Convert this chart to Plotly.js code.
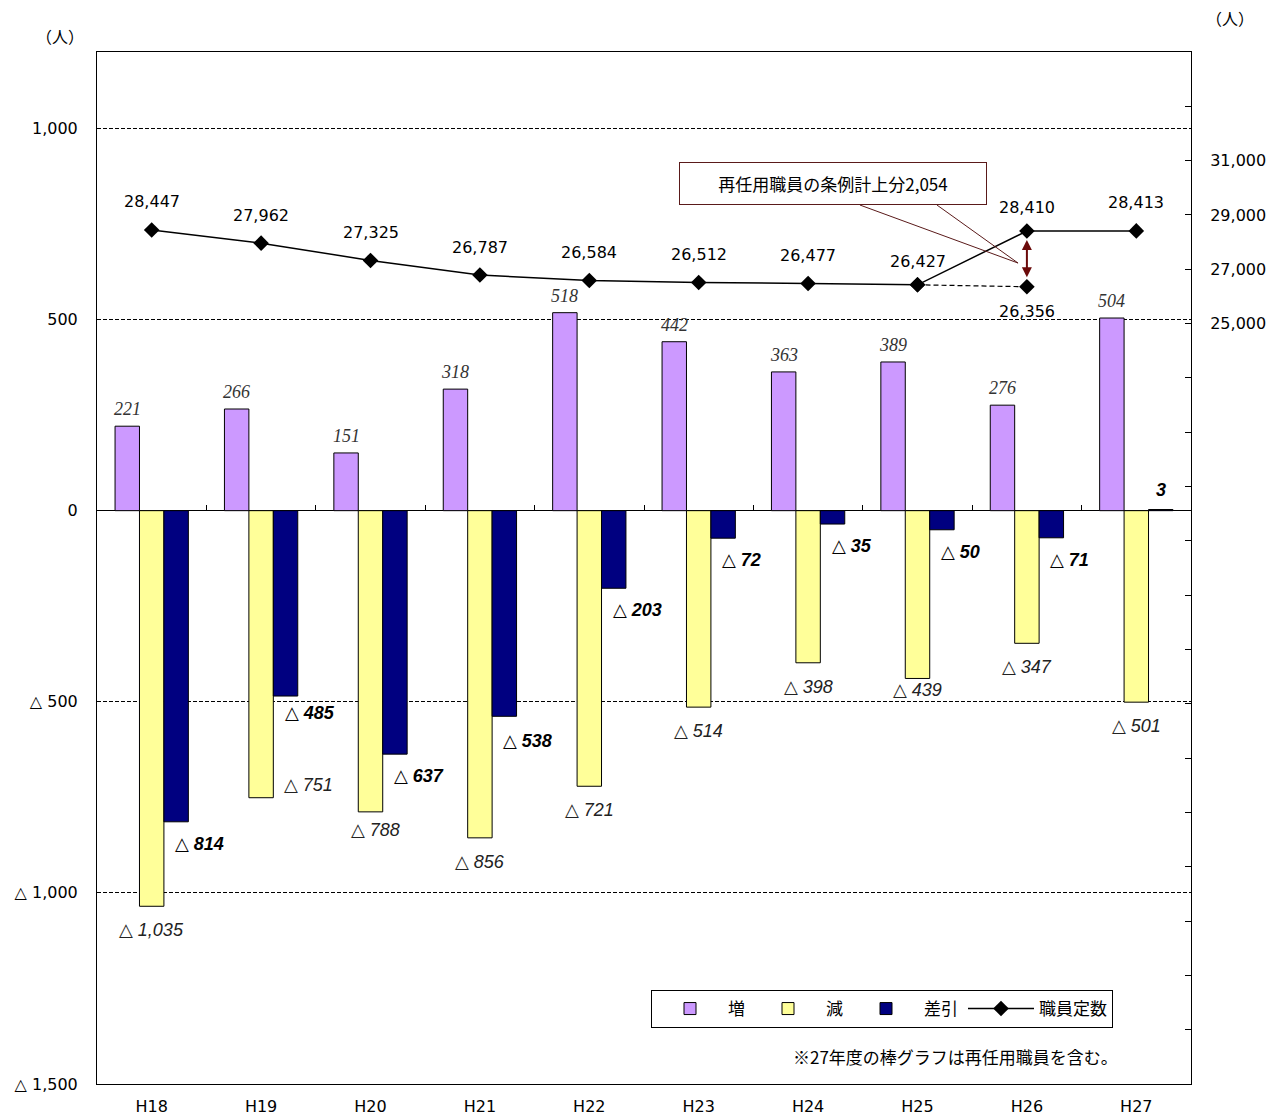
<!DOCTYPE html>
<html>
<head>
<meta charset="utf-8">
<script src="https://cdn.plot.ly/plotly-3.0.1.min.js"></script>
<style>
  html, body { margin: 0; padding: 0; background: #ffffff; }
  #chart { width: 1274px; height: 1120px; }
</style>
</head>
<body>
<div id="chart"></div>
<script>
// ---------------- data ----------------
const years = ['H18', 'H19', 'H20', 'H21', 'H22', 'H23', 'H24', 'H25', 'H26', 'H27'];
const increase  = [221, 266, 151, 318, 518, 442, 363, 389, 276, 504];          // 増
const decrease  = [-1035, -751, -788, -856, -721, -514, -398, -439, -347, -501]; // 減
const netChange = [-814, -485, -637, -538, -203, -72, -35, -50, -71, 3];        // 差引
const staffQuota = [28447, 27962, 27325, 26787, 26584, 26512, 26477, 26427, 28410, 28413]; // 職員定数
const exclYears = ['H25', 'H26'];            // 再任用職員を除く定数の推移
const exclQuota = [26427, 26356];
const rehireAddition = 2054;                 // 再任用職員の条例計上分
const leftTickVals = [-1500, -1000, -500, 0, 500, 1000];
const leftTickText = ['△ 1,500', '△ 1,000', '△ 500', '0', '500', '1,000'];
const rightTickVals = [-1000, 1000, 3000, 5000, 7000, 9000, 11000, 13000, 15000, 17000,
                       19000, 21000, 23000, 25000, 27000, 29000, 31000, 33000];
const rightTickText = ['', '', '', '', '', '', '', '', '', '', '', '', '',
                       '25,000', '27,000', '29,000', '31,000', ''];
const boundaryTicks = [0.5, 1.5, 2.5, 3.5, 4.5, 5.5, 6.5, 7.5, 8.5];

// ---------------- helpers ----------------
const fmt = v => (v < 0 ? '△ ' : '') + Math.abs(v).toLocaleString('en-US');
const plotW = 1274 - 97 - 83;
const catW = plotW / years.length;
const BARGAP = 0.33;
const barW = catW * (1 - BARGAP) / 3;

const JP = '"Noto Sans CJK JP", "DejaVu Sans", sans-serif';
const NUM = '"DejaVu Sans", "Noto Sans CJK JP", sans-serif';

// ---------------- traces ----------------
const traces = [
  { type: 'bar', name: '増', x: years, y: increase,
    marker: { color: '#CC99FF', line: { color: '#000000', width: 1 } }, hoverinfo: 'x+y' },
  { type: 'bar', name: '減', x: years, y: decrease,
    marker: { color: '#FFFF99', line: { color: '#000000', width: 1 } }, hoverinfo: 'x+y' },
  { type: 'bar', name: '差引', x: years, y: netChange,
    marker: { color: '#000080', line: { color: '#000000', width: 1 } }, hoverinfo: 'x+y' },
  { type: 'scatter', name: '職員定数', x: exclYears, y: exclQuota, yaxis: 'y2',
    mode: 'lines+markers', showlegend: false,
    line: { color: '#000000', width: 1.2, dash: '5px,3px' },
    marker: { symbol: 'diamond', size: 12, color: '#000000' } },
  { type: 'scatter', name: '職員定数', x: years, y: staffQuota, yaxis: 'y2',
    mode: 'lines+markers',
    line: { color: '#000000', width: 1.5 },
    marker: { symbol: 'diamond', size: 12, color: '#000000' } },
  { type: 'scatter', x: [0], y: [null], xaxis: 'x2', yaxis: 'y', mode: 'markers',
    showlegend: false, hoverinfo: 'skip' }
];

// ---------------- annotations ----------------
const annotations = [];
const incFont = { family: '"Liberation Serif", "DejaVu Serif", serif', size: 18, style: 'italic', color: '#333333' };
const decFont = { family: '"Liberation Sans", "DejaVu Sans", sans-serif', size: 18, style: 'italic', color: '#222222' };
const netFont = { family: '"Liberation Sans", "DejaVu Sans", sans-serif', size: 18, style: 'italic', weight: 'bold', color: '#000000' };
const numFont = { family: NUM, size: 16, color: '#000000' };

// label placement nudges (layout only)
const decNudge = { H19: { xanchor: 'left', xshift: 21, yshift: 13 }, H20: { xshift: 5, yshift: -18 }, H25: { yshift: -12 } };
const netNudge = { H19: { yshift: -17 }, H21: { yshift: -25 } };
const quotaNudge = { H25: 23, H26: 23 };

years.forEach((yr, i) => {
  annotations.push({ x: yr, y: increase[i], xref: 'x', yref: 'y', showarrow: false,
    text: fmt(increase[i]), font: incFont, xshift: -barW, yshift: 17, yanchor: 'middle', xanchor: 'center' });

  annotations.push(Object.assign({ x: yr, y: decrease[i], xref: 'x', yref: 'y', showarrow: false,
    text: fmt(decrease[i]), font: decFont, xshift: 0, yshift: -24, yanchor: 'middle', xanchor: 'center' },
    decNudge[yr] || {}));

  const nv = netChange[i];
  if (nv < 0) {
    annotations.push(Object.assign({ x: yr, y: nv, xref: 'x', yref: 'y', showarrow: false,
      text: fmt(nv), font: netFont, xshift: barW - 3, yshift: -22, xanchor: 'left', yanchor: 'middle' },
      netNudge[yr] || {}));
  } else {
    annotations.push({ x: yr, y: nv, xref: 'x', yref: 'y', showarrow: false,
      text: fmt(nv), font: netFont, xshift: barW, yshift: 20, xanchor: 'center', yanchor: 'middle' });
  }

  annotations.push({ x: yr, y: staffQuota[i], xref: 'x', yref: 'y2', showarrow: false,
    text: fmt(staffQuota[i]), font: numFont, yshift: quotaNudge[yr] || 28, yanchor: 'middle', xanchor: 'center' });
});

// 26,356 label below its marker
annotations.push({ x: exclYears[1], y: exclQuota[1], xref: 'x', yref: 'y2', showarrow: false,
  text: fmt(exclQuota[1]), font: numFont, yshift: -25, yanchor: 'middle', xanchor: 'center' });

// double-headed arrow between the two H26 points
const idx26 = years.indexOf('H26');
annotations.push({ x: idx26, y: staffQuota[idx26], xref: 'x', yref: 'y2',
  ax: idx26, ay: exclQuota[1], axref: 'x', ayref: 'y2', text: '', showarrow: true,
  arrowside: 'end+start', arrowhead: 2, startarrowhead: 2, arrowsize: 1, startarrowsize: 1,
  arrowwidth: 2, arrowcolor: '#6B0A0A', standoff: 9, startstandoff: 8 });

// callout box
annotations.push({ xref: 'paper', yref: 'paper', x: (833 - 97) / plotW, y: (1084 - 183.5) / 1032,
  xanchor: 'center', yanchor: 'middle', showarrow: false,
  text: '再任用職員の条例計上分' + rehireAddition.toLocaleString('en-US'),
  font: { family: JP, size: 17, color: '#000000' },
  bgcolor: '#ffffff', bordercolor: '#5A1A1A', borderwidth: 1, borderpad: 4, width: 298, height: 33 });

// unit labels
annotations.push({ xref: 'paper', yref: 'paper', x: (60 - 97) / plotW, y: (1084 - 36) / 1032,
  xanchor: 'center', yanchor: 'middle',
  showarrow: false, text: '（人）', font: { family: JP, size: 16, color: '#000000' } });
annotations.push({ xref: 'paper', yref: 'paper', x: (1230 - 97) / plotW, y: (1084 - 18) / 1032,
  xanchor: 'center', yanchor: 'middle',
  showarrow: false, text: '（人）', font: { family: JP, size: 16, color: '#000000' } });

// note
annotations.push({ xref: 'paper', yref: 'paper', x: (955 - 97) / plotW, y: (1084 - 1056) / 1032,
  xanchor: 'center', yanchor: 'middle',
  showarrow: false, text: '※27年度の棒グラフは再任用職員を含む。',
  font: { family: JP, size: 17, color: '#000000' } });

// callout pointer
const px = v => ((v - 97) / plotW).toFixed(4);
const py = v => ((1084 - v) / 1032).toFixed(4);
const shapes = [
  { type: 'path', xref: 'paper', yref: 'paper', layer: 'above',
    path: `M${px(860)},${py(205)} L${px(1018)},${py(263)} L${px(937)},${py(205)}`,
    line: { color: '#5A1A1A', width: 1 }, fillcolor: 'rgba(0,0,0,0)' }
];

// ---------------- layout ----------------
const layout = {
  width: 1274, height: 1120,
  margin: { l: 97, r: 83, t: 52, b: 36, pad: 0 },
  paper_bgcolor: '#ffffff', plot_bgcolor: '#ffffff',
  font: { family: NUM, size: 16, color: '#000000' },
  barmode: 'group', bargap: BARGAP, bargroupgap: 0,
  showlegend: true,
  legend: {
    orientation: 'h', x: (651 - 97) / plotW, y: (1084 - 990) / 1032,
    xanchor: 'left', yanchor: 'top', traceorder: 'normal',
    bgcolor: '#ffffff', bordercolor: '#000000', borderwidth: 1,
    font: { family: JP, size: 17, color: '#000000' },
    itemwidth: 66
  },
  xaxis: {
    type: 'category', categoryorder: 'array', categoryarray: years,
    range: [-0.5, years.length - 0.5],
    showline: true, mirror: true, linecolor: '#000000', linewidth: 1,
    showgrid: false, zeroline: false, ticks: '',
    tickfont: { family: NUM, size: 16, color: '#000000' },
    ticklabelstandoff: 8
  },
  xaxis2: {
    type: 'linear', overlaying: 'x', anchor: 'free', position: 1500 / 2700,
    range: [-0.5, years.length - 0.5], tickvals: boundaryTicks,
    ticks: 'inside', ticklen: 6, tickcolor: '#000000', tickwidth: 1,
    showticklabels: false, showline: false, showgrid: false, zeroline: false
  },
  yaxis: {
    range: [-1500, 1200], tickvals: leftTickVals, ticktext: leftTickText,
    showline: true, linecolor: '#000000', linewidth: 1,
    showgrid: true, gridcolor: '#000000', gridwidth: 1, griddash: '4px,2px',
    zeroline: true, zerolinecolor: '#000000', zerolinewidth: 1,
    ticks: '', ticklabelstandoff: 15,
    tickfont: { family: NUM, size: 16, color: '#000000' }
  },
  yaxis2: {
    overlaying: 'y', side: 'right', range: [-3000, 35000],
    tickvals: rightTickVals, ticktext: rightTickText,
    showline: true, linecolor: '#000000', linewidth: 1,
    showgrid: false, zeroline: false,
    ticks: 'inside', ticklen: 6, tickcolor: '#000000', tickwidth: 1,
    ticklabelstandoff: 15,
    tickfont: { family: NUM, size: 16, color: '#000000' }
  },
  annotations: annotations,
  shapes: shapes
};

Plotly.newPlot('chart', traces, layout, { displayModeBar: false, staticPlot: true });
</script>
</body>
</html>
